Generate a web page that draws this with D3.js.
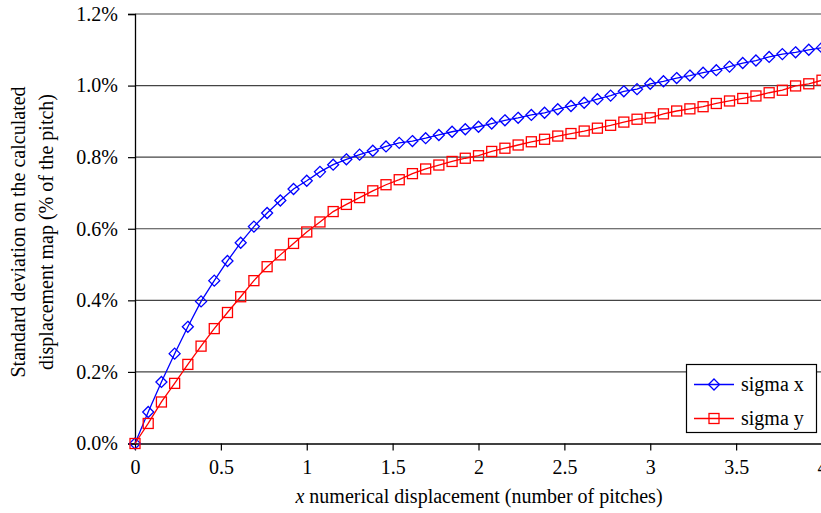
<!DOCTYPE html>
<html>
<head>
<meta charset="utf-8">
<script src="https://cdn.jsdelivr.net/npm/d3@7"></script>
<style>
  body { margin: 0; background: #fff; }
  svg { display: block; font-family: "Liberation Serif", "DejaVu Serif", serif; }
</style>
</head>
<body>
<div id="chart"></div>
<script>
// x positions: 0 to 4 pitches in steps of 1/13
const displacement = d3.range(53).map(i => i / 13);

// standard deviation in % of the pitch
const sigmaX = [
  0, 0.088, 0.172, 0.251, 0.326, 0.397, 0.455, 0.510, 0.561, 0.606,
  0.644, 0.679, 0.711, 0.734, 0.759, 0.779, 0.794, 0.807, 0.818, 0.830,
  0.840, 0.845, 0.853, 0.862, 0.871, 0.878, 0.885, 0.894, 0.903, 0.910,
  0.918, 0.924, 0.934, 0.943, 0.952, 0.962, 0.972, 0.984, 0.990, 1.005,
  1.012, 1.021, 1.028, 1.036, 1.043, 1.053, 1.063, 1.070, 1.080, 1.088,
  1.093, 1.100, 1.106
];
const sigmaY = [
  0, 0.056, 0.116, 0.168, 0.221, 0.272, 0.321, 0.366, 0.410, 0.455,
  0.494, 0.527, 0.559, 0.591, 0.619, 0.648, 0.668, 0.687, 0.706, 0.723,
  0.737, 0.754, 0.767, 0.778, 0.788, 0.797, 0.804, 0.816, 0.825, 0.834,
  0.843, 0.850, 0.859, 0.866, 0.873, 0.881, 0.889, 0.898, 0.906, 0.910,
  0.921, 0.929, 0.935, 0.941, 0.950, 0.957, 0.964, 0.971, 0.980, 0.987,
  0.999, 1.005, 1.015
];

const seriesNames = ["sigma x", "sigma y"];
const xTicks = [0, 0.5, 1, 1.5, 2, 2.5, 3, 3.5, 4];
const yTicks = [0, 0.2, 0.4, 0.6, 0.8, 1.0, 1.2];

const width = 821, height = 513;
const svg = d3.select("#chart")
  .append("svg")
  .attr("width", width)
  .attr("height", height);

// Scales (plot runs off the right edge, like the original)
const x = d3.scaleLinear().domain([0, 4]).range([135, 822]);
const y = d3.scaleLinear().domain([0, 1.2]).range([443.5, 14]);

// Horizontal gridlines
svg.append("g")
  .selectAll("line")
  .data(yTicks.slice(1))
  .join("line")
  .attr("x1", x(0))
  .attr("x2", width)
  .attr("y1", d => y(d))
  .attr("y2", d => y(d))
  .attr("stroke", "#444")
  .attr("stroke-width", 1.2);

// Y axis
const yAxis = svg.append("g")
  .attr("transform", `translate(${x(0)},0)`)
  .call(d3.axisLeft(y).tickValues(yTicks).tickFormat(d => d.toFixed(1) + "%").tickSize(7).tickPadding(10));

// X axis
const xAxis = svg.append("g")
  .attr("transform", `translate(0,${y(0)})`)
  .call(d3.axisBottom(x).tickValues(xTicks).tickFormat(d3.format("")).tickSize(7).tickPadding(9));

[xAxis, yAxis].forEach(ax => {
  ax.select(".domain").attr("stroke", "#000").attr("stroke-width", 1.3);
  ax.selectAll(".tick line").attr("stroke", "#000").attr("stroke-width", 1.2);
  ax.selectAll(".tick text")
    .attr("fill", "#000")
    .style("font-family", "'Liberation Serif', serif")
    .style("font-size", "20px");
});
xAxis.select(".domain").attr("d", `M${x(0)},0.5H${width}`);

// Series lines and markers
const series = [
  { name: seriesNames[0], values: sigmaX, color: "#0000ff", symbol: "diamond" },
  { name: seriesNames[1], values: sigmaY, color: "#ff0000", symbol: "square" }
];

const line = d3.line()
  .x((d, i) => x(displacement[i]))
  .y(d => y(d));

function drawMarker(g, type, cx, cy, color) {
  if (type === "diamond") {
    g.append("path")
      .attr("d", `M${cx},${cy - 5.5}L${cx + 5.5},${cy}L${cx},${cy + 5.5}L${cx - 5.5},${cy}Z`)
      .attr("fill", "none")
      .attr("stroke", color)
      .attr("stroke-width", 1.3);
  } else {
    g.append("rect")
      .attr("x", cx - 5)
      .attr("y", cy - 5)
      .attr("width", 10)
      .attr("height", 10)
      .attr("fill", "none")
      .attr("stroke", color)
      .attr("stroke-width", 1.3);
  }
}

series.forEach(s => {
  svg.append("path")
    .datum(s.values)
    .attr("d", line)
    .attr("fill", "none")
    .attr("stroke", s.color)
    .attr("stroke-width", 1.3);

  const g = svg.append("g");
  s.values.forEach((v, i) => drawMarker(g, s.symbol, x(displacement[i]), y(v), s.color));
});

// Axis titles
const xTitle = svg.append("text")
  .attr("x", 479)
  .attr("y", 503)
  .attr("text-anchor", "middle")
  .style("font-size", "20px");
xTitle.append("tspan").style("font-style", "italic").text("x");
xTitle.append("tspan").text(" numerical displacement (number of pitches)");

const yTitle = svg.append("text")
  .attr("transform", "translate(0,232) rotate(-90)")
  .attr("text-anchor", "middle")
  .style("font-size", "20px");
yTitle.append("tspan").attr("x", 0).attr("y", 25).text("Standard deviation on the calculated");
yTitle.append("tspan").attr("x", 0).attr("y", 53).text("displacement map (% of the pitch)");

// Legend
const legend = svg.append("g");
legend.append("rect")
  .attr("x", 686.5)
  .attr("y", 364.5)
  .attr("width", 130)
  .attr("height", 68)
  .attr("fill", "#fff")
  .attr("stroke", "#000")
  .attr("stroke-width", 1.2);

series.forEach((s, i) => {
  const ly = 384.5 + i * 34;
  legend.append("line")
    .attr("x1", 694)
    .attr("x2", 734)
    .attr("y1", ly)
    .attr("y2", ly)
    .attr("stroke", s.color)
    .attr("stroke-width", 1.3);
  drawMarker(legend, s.symbol, 714, ly, s.color);
  legend.append("text")
    .attr("x", 741)
    .attr("y", ly + 6)
    .style("font-size", "20px")
    .text(s.name);
});
</script>
</body>
</html>
